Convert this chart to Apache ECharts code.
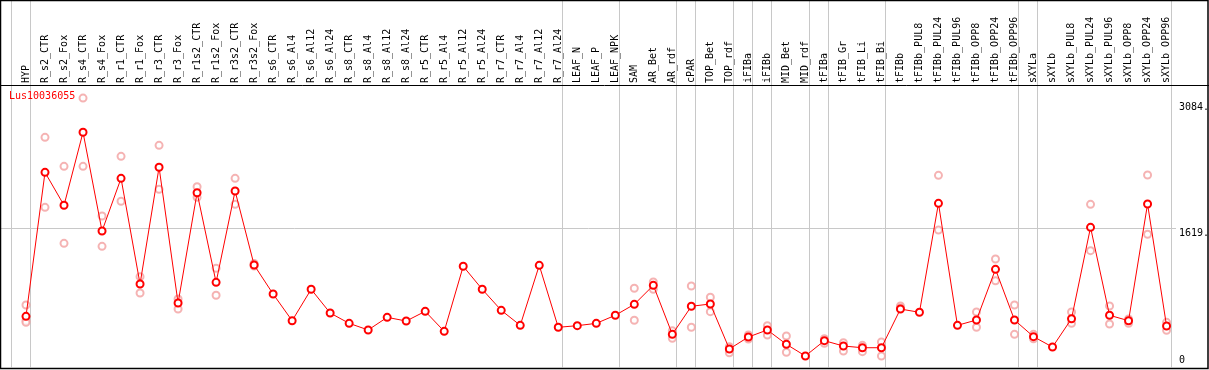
<!DOCTYPE html>
<html>
<head>
<meta charset="utf-8">
<script src="https://cdn.jsdelivr.net/npm/echarts@6/dist/echarts.min.js"></script>
<style>
html,body{margin:0;padding:0;background:#fff;}
#chart{width:1209px;height:370px;}
</style>
</head>
<body>
<div id="chart"></div>
<script>
const categories = ["HYP","R_s2_CTR","R_s2_Fox","R_s4_CTR","R_s4_Fox","R_r1_CTR","R_r1_Fox","R_r3_CTR","R_r3_Fox","R_r1s2_CTR","R_r1s2_Fox","R_r3s2_CTR","R_r3s2_Fox","R_s6_CTR","R_s6_Al4","R_s6_Al12","R_s6_Al24","R_s8_CTR","R_s8_Al4","R_s8_Al12","R_s8_Al24","R_r5_CTR","R_r5_Al4","R_r5_Al12","R_r5_Al24","R_r7_CTR","R_r7_Al4","R_r7_Al12","R_r7_Al24","LEAF_N","LEAF_P","LEAF_NPK","SAM","AR_Bet","AR_rdf","cPAR","TOP_Bet","TOP_rdf","iFIBa","iFIBb","MID_Bet","MID_rdf","tFIBa","tFIB_Gr","tFIB_Li","tFIB_Bi","tFIBb","tFIBb_PUL8","tFIBb_PUL24","tFIBb_PUL96","tFIBb_OPP8","tFIBb_OPP24","tFIBb_OPP96","sXYLa","sXYLb","sXYLb_PUL8","sXYLb_PUL24","sXYLb_PUL96","sXYLb_OPP8","sXYLb_OPP24","sXYLb_OPP96"];

const meanValues = [593,2271,1887,2738,1587,2201,970,2330,748,2034,989,2054,1191,853,542,908,632,511,434,581,538,651,418,1176,908,663,488,1187,465,484,511,605,733,954,383,710,737,212,352,434,267,131,309,247,227,227,678,640,1910,488,550,1141,550,356,235,565,1630,605,542,1902,480];

const rep1 = [725,2679,2341,3137,1762,2458,1055,2586,795,2104,1153,2201,1210,null,null,null,null,null,null,null,null,null,null,null,null,null,null,null,null,null,null,null,920,993,425,946,815,239,375,484,364,null,332,286,255,294,713,null,2236,null,643,1261,725,383,null,643,1898,713,562,2240,523];
const rep2 = [542,1863,1444,2341,1409,1934,865,2073,678,1980,838,1898,1180,null,null,null,null,null,null,null,null,null,null,null,null,null,null,null,null,null,null,null,547,908,337,465,647,169,329,375,174,null,278,189,181,131,690,null,1599,null,465,1008,383,332,null,511,1358,503,511,1549,430];
const rep3 = [523,null,null,null,null,null,null,null,null,null,null,null,null,null,null,null,null,null,null,null,null,null,null,null,null,null,null,null,null,null,null,null,null,null,null,null,null,null,null,null,null,null,null,null,null,null,null,null,null,null,null,null,null,null,null,null,null,null,null,null,null];

const groupEnds = [-1,0,28,31,34,35,37,38,39,41,42,45,52,53,60];
const yTickLabels = [1619, 3084];
const yZeroLabel = [0];
const title = "Lus10036055";

const FONT = "DejaVu Sans Mono";
const replicatePoints = [];
[rep1, rep2, rep3].forEach(r => r.forEach((v, i) => { if (v != null) replicatePoints.push([i, v]); }));
const meanPoints = meanValues.map((v, i) => [i, v]);
const sepOffset = 0.22;

const chart = echarts.init(document.getElementById('chart'), null, {renderer: 'canvas'});
const option = {
  animation: false,
  backgroundColor: '#fff',
  title: {
    text: title, left: 9, top: 91, padding: 0,
    textStyle: {color: '#ff0000', fontFamily: FONT, fontSize: 10, fontWeight: 'normal'}
  },
  grid: {left: 1, right: 33, top: 0, bottom: 2.8, containLabel: false, outerBoundsMode: 'none'},
  xAxis: {
    type: 'value', position: 'top', offset: -85,
    min: -1.315, max: 60.496,
    axisLine: {show: false}, axisTick: {show: false, customValues: categories.map((c, i) => i)},
    splitLine: {show: false},
    axisLabel: {
      customValues: categories.map((c, i) => i),
      rotate: 90, margin: 2, color: '#000', fontFamily: FONT, fontSize: 10,
      formatter: v => categories[Math.round(v)] || ''
    }
  },
  yAxis: [{
    type: 'value', position: 'right', min: 0, max: 4280,
    axisLine: {show: false}, axisTick: {show: false, customValues: yTickLabels}, splitLine: {show: false},
    axisLabel: {customValues: yTickLabels, margin: 3, color: '#000', fontFamily: FONT, fontSize: 10,
      verticalAlign: 'top', formatter: v => v + '.'}
  }, {
    type: 'value', position: 'right', min: 0, max: 4280,
    axisLine: {show: false}, axisTick: {show: false, customValues: yZeroLabel}, splitLine: {show: false},
    axisLabel: {customValues: yZeroLabel, margin: 3, color: '#000', fontFamily: FONT, fontSize: 10,
      verticalAlign: 'bottom', padding: [0,0,2,0], formatter: v => String(v)}
  }],
  series: [{
    type: 'scatter', z: 2, silent: true,
    data: replicatePoints,
    symbol: 'emptyCircle', symbolSize: 7,
    itemStyle: {color: '#f2a0a0', borderColor: '#f2a0a0', borderWidth: 1.3},
    markLine: {
      z: 1, silent: true, symbol: ['none', 'none'], label: {show: false},
      lineStyle: {color: '#c8c8c8', width: 1, type: 'solid'},
      emphasis: {disabled: true},
      data: groupEnds.map(g => ({xAxis: g + sepOffset})).concat([{yAxis: 1619}])
    }
  }, {
    type: 'line', z: 3, silent: true,
    data: meanPoints,
    symbol: 'emptyCircle', symbolSize: 7,
    lineStyle: {color: '#ff0000', width: 1},
    itemStyle: {color: '#ff0000', borderColor: '#ff0000', borderWidth: 1.3}
  }],
  graphic: [
    {type: 'rect', shape: {x: 0.5, y: 0.5, width: 1207.5, height: 368}, style: {fill: null, stroke: '#000', lineWidth: 1.5}, z: 100, silent: true},
    {type: 'line', shape: {x1: 0, y1: 85.5, x2: 1209, y2: 85.5}, style: {stroke: '#000', lineWidth: 1}, z: 100, silent: true}
  ]
};
chart.setOption(option);
</script>
</body>
</html>
